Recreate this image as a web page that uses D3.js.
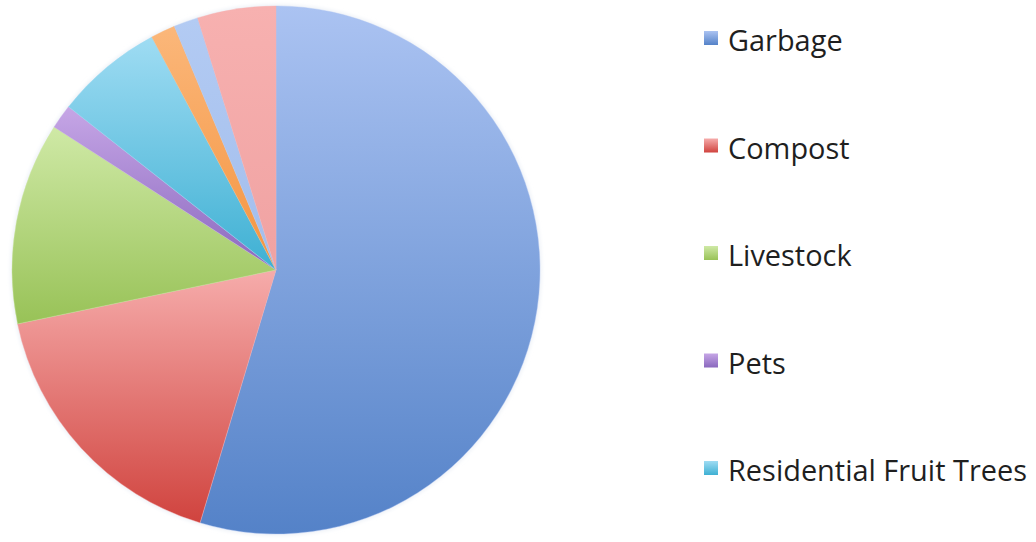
<!DOCTYPE html>
<html>
<head>
<meta charset="utf-8">
<script src="https://cdnjs.cloudflare.com/ajax/libs/d3/7.8.5/d3.min.js"></script>
<style>
  body { margin: 0; background: #fff; }
</style>
</head>
<body>
<script>
// Slice categories and shares (percent)
var categories = ["Garbage", "Compost", "Livestock", "Pets", "Residential Fruit Trees",
                  "Other 6", "Other 7", "Other 8"];
var values = [54.7, 17.1, 12.4, 1.5, 6.6, 1.5, 1.5, 4.8];
// only the first five show in the legend
var legendItems = categories.slice(0, 5);

// light (top) and dark (bottom) gradient stops per slice
var topColors = ["#abc3f2", "#f6acab", "#cfe9a6", "#c6a6e6", "#9fdcf3", "#fbb77a", "#b3cbf3", "#f7b1b0"];
var botColors = ["#5482c8", "#d0433e", "#98c257", "#8a68be", "#3eb0d3", "#f49440", "#a2bdec", "#f0a2a2"];

var width = 1036, height = 542;
var cx = 276, cy = 270, radius = 264;

var svg = d3.select("body").append("svg")
    .attr("width", width)
    .attr("height", height);

var defs = svg.append("defs");
categories.forEach(function(c, i) {
  var g = defs.append("linearGradient")
      .attr("id", "grad" + i)
      .attr("x1", 0).attr("y1", 0).attr("x2", 0).attr("y2", 1);
  g.append("stop").attr("offset", "0%").attr("stop-color", topColors[i]);
  g.append("stop").attr("offset", "100%").attr("stop-color", botColors[i]);
});

var blur = defs.append("filter").attr("id", "halo")
    .attr("x", "-5%").attr("y", "-5%").attr("width", "110%").attr("height", "110%");
blur.append("feGaussianBlur").attr("stdDeviation", 2);

var pie = d3.pie().sort(null).value(function(d) { return d; });
var arc = d3.arc().innerRadius(0).outerRadius(radius);

var g = svg.append("g").attr("transform", "translate(" + cx + "," + cy + ")");

// faint soft edge round the pie
g.append("circle")
    .attr("r", radius + 1)
    .attr("fill", "#e9eef5")
    .attr("filter", "url(#halo)");

g.selectAll("path.slice")
    .data(pie(values))
    .enter().append("path")
    .attr("class", "slice")
    .attr("d", arc)
    .attr("fill", function(d, i) { return "url(#grad" + i + ")"; })
    .attr("stroke", function(d, i) { return topColors[i]; })
    .attr("stroke-width", 0.4);

// Legend
var legend = svg.append("g").attr("transform", "translate(704, 51)");
var rowStep = 107.5;

var rows = legend.selectAll("g.item")
    .data(legendItems)
    .enter().append("g")
    .attr("class", "item")
    .attr("transform", function(d, i) { return "translate(0," + (i * rowStep) + ")"; });

rows.append("rect")
    .attr("x", 0)
    .attr("y", -20)
    .attr("width", 14)
    .attr("height", 14)
    .attr("fill", function(d, i) { return "url(#grad" + i + ")"; });

var labels = rows.append("text")
    .attr("x", 24)
    .attr("y", 0)
    .attr("font-family", "'Open Sans', sans-serif")
    .attr("font-size", 28.5)
    .attr("fill", "#1f1f1f")
    .text(function(d) { return d; });

// fit the longest label to the width it has in the original
var widest = d3.max(labels.nodes(), function(n) { return n.getComputedTextLength(); });
var k = 299 / widest;
labels.each(function() {
  var w = this.getComputedTextLength();
  d3.select(this).attr("textLength", w * k).attr("lengthAdjust", "spacingAndGlyphs");
});
</script>
</body>
</html>
